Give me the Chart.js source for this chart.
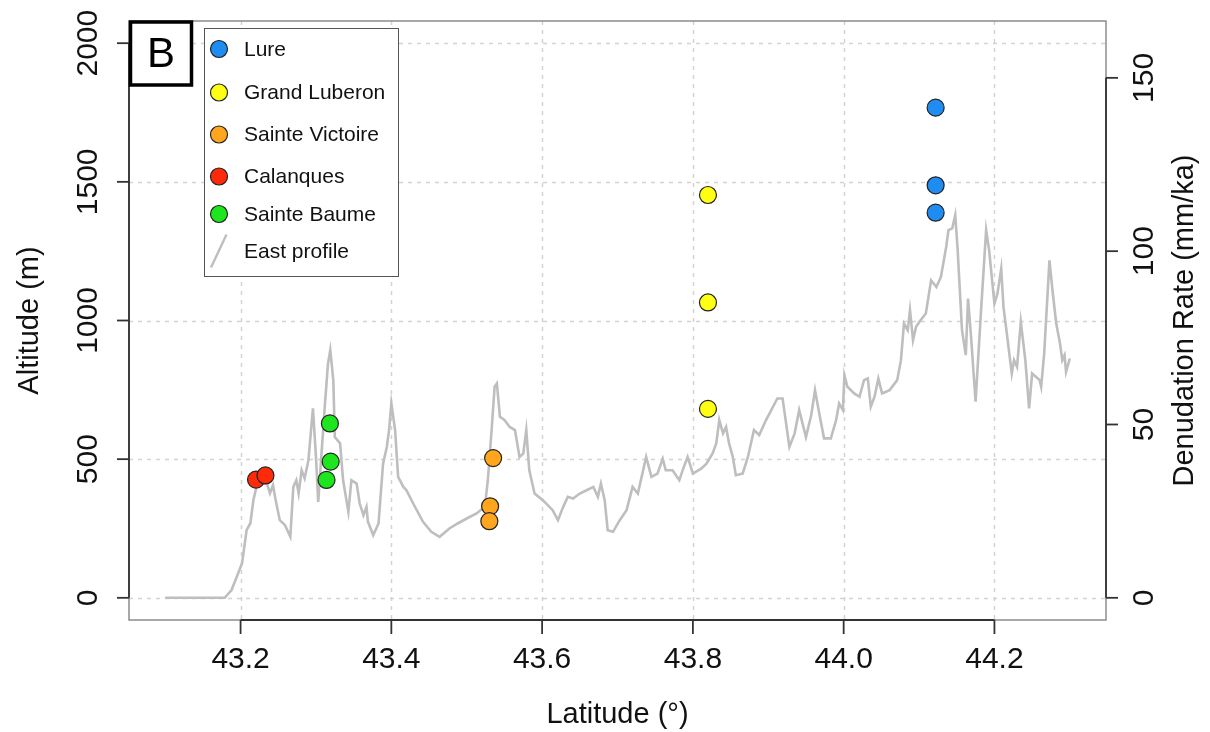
<!DOCTYPE html>
<html>
<head>
<meta charset="utf-8">
<script src="https://cdn.jsdelivr.net/npm/chart.js@4.4.1/dist/chart.umd.min.js"></script>
<style>
  body { margin: 0; background: #fff; }
  canvas { display: block; }
</style>
</head>
<body>
<canvas id="chart" width="1210" height="732"></canvas>
<script>
// East profile (latitude in degrees, altitude in m)
const profileLat = [43.100, 43.179, 43.188, 43.195, 43.202, 43.208, 43.213, 43.217, 43.221, 43.228,
  43.235, 43.239, 43.243, 43.246, 43.252, 43.259, 43.266, 43.270, 43.274, 43.277,
  43.281, 43.285, 43.290, 43.296, 43.300, 43.303, 43.308, 43.312, 43.316, 43.319,
  43.323, 43.325, 43.332, 43.336, 43.343, 43.347, 43.354, 43.358, 43.363, 43.367,
  43.369, 43.376, 43.383, 43.389, 43.394, 43.397, 43.400, 43.405, 43.409, 43.416,
  43.420, 43.429, 43.442, 43.453, 43.464, 43.477, 43.488, 43.500, 43.513, 43.524,
  43.528, 43.533, 43.537, 43.540, 43.544, 43.550, 43.557, 43.564, 43.570, 43.575,
  43.579, 43.583, 43.590, 43.601, 43.614, 43.621, 43.628, 43.634, 43.641, 43.650,
  43.659, 43.668, 43.674, 43.678, 43.683, 43.687, 43.694, 43.703, 43.712, 43.720,
  43.727, 43.738, 43.745, 43.753, 43.760, 43.764, 43.773, 43.782, 43.788, 43.793,
  43.800, 43.811, 43.818, 43.826, 43.831, 43.835, 43.840, 43.844, 43.848, 43.853,
  43.857, 43.866, 43.873, 43.881, 43.888, 43.897, 43.904, 43.912, 43.919, 43.928,
  43.935, 43.941, 43.950, 43.957, 43.962, 43.968, 43.974, 43.983, 43.990, 43.994,
  43.999, 44.001, 44.005, 44.014, 44.021, 44.027, 44.032, 44.036, 44.041, 44.046,
  44.051, 44.061, 44.071, 44.076, 44.080, 44.085, 44.088, 44.092, 44.096, 44.102,
  44.109, 44.116, 44.123, 44.129, 44.136, 44.139, 44.144, 44.148, 44.151, 44.157,
  44.162, 44.165, 44.169, 44.175, 44.182, 44.189, 44.193, 44.200, 44.204, 44.209,
  44.212, 44.217, 44.223, 44.226, 44.230, 44.235, 44.241, 44.246, 44.250, 44.260,
  44.262, 44.266, 44.273, 44.277, 44.282, 44.287, 44.290, 44.293, 44.295, 44.300];
const profileAlt = [0, 0, 28, 76, 125, 244, 269, 352, 400, 412,
  412, 377, 406, 360, 280, 262, 220, 400, 424, 377,
  460, 431, 496, 683, 508, 346, 544, 701, 845, 893,
  785, 580, 557, 424, 310, 424, 412, 340, 298, 328,
  274, 226, 268, 484, 544, 605, 701, 605, 436, 400,
  388, 340, 274, 238, 220, 250, 268, 286, 304, 328,
  424, 605, 761, 773, 653, 641, 616, 605, 508, 520,
  605, 460, 376, 352, 316, 280, 328, 364, 358, 376,
  388, 400, 364, 412, 352, 244, 238, 280, 316, 400,
  376, 508, 436, 448, 502, 460, 460, 424, 472, 508,
  448, 466, 484, 520, 557, 641, 593, 616, 557, 508,
  442, 448, 508, 605, 587, 641, 677, 719, 719, 544,
  593, 677, 580, 659, 749, 659, 575, 575, 641, 701,
  677, 803, 761, 737, 725, 785, 791, 689, 725, 791,
  737, 749, 785, 857, 989, 965, 1037, 929, 977, 1001,
  1025, 1145, 1121, 1157, 1265, 1326, 1332, 1380, 1265, 965,
  875, 1079, 941, 707, 1025, 1326, 1253, 1061, 1097, 1187,
  1049, 941, 809, 857, 833, 995, 857, 683, 809, 785,
  761, 881, 1217, 1109, 989, 917, 857, 875, 815, 863];

// sampling sites: latitude and denudation rate (mm/ka)
const siteNames = ["Lure", "Grand Luberon", "Sainte Victoire", "Calanques", "Sainte Baume"];
const siteColors = ["#1e8cf0", "#ffff14", "#ffa51e", "#ff2a0a", "#1ee61e"];
const lureLat = [44.122, 44.122, 44.122];
const lureRate = [141.4, 119.0, 111.1];
const luberonLat = [43.820, 43.820, 43.820];
const luberonRate = [116.2, 85.2, 54.5];
const victoireLat = [43.535, 43.531, 43.530];
const victoireRate = [40.3, 26.4, 22.1];
const calanquesLat = [43.2205, 43.233];
const calanquesRate = [34.1, 35.3];
const baumeLat = [43.3185, 43.3195, 43.314];
const baumeRate = [50.3, 39.3, 34.0];

const latTicks = [43.2, 43.4, 43.6, 43.8, 44.0, 44.2];
const altTicks = [0, 500, 1000, 1500, 2000];
const rateTicks = [0, 50, 100, 150];

const FONT = "'Liberation Sans', Arial, Helvetica, sans-serif";
const siteLats = [lureLat, luberonLat, victoireLat, calanquesLat, baumeLat];
const siteRates = [lureRate, luberonRate, victoireRate, calanquesRate, baumeRate];

const datasets = siteNames.map((name, i) => ({
  label: name,
  data: siteLats[i].map((lat, k) => ({ x: lat, y: siteRates[i][k] })),
  yAxisID: "y2",
  backgroundColor: siteColors[i],
  borderColor: "#222",
  borderWidth: 1.2,
  pointRadius: 8.5,
  order: 1
}));
datasets.push({
  label: "East profile",
  data: profileLat.map((lat, k) => ({ x: lat, y: profileAlt[k] })),
  yAxisID: "y",
  showLine: true,
  borderColor: "#bebebe",
  borderWidth: 2.6,
  pointRadius: 0,
  tension: 0,
  order: 10
});

function line(ctx, x1, y1, x2, y2) {
  ctx.beginPath();
  ctx.moveTo(x1, y1);
  ctx.lineTo(x2, y2);
  ctx.stroke();
}

function vtext(ctx, txt, x, y) {
  ctx.save();
  ctx.translate(x, y);
  ctx.rotate(-Math.PI / 2);
  ctx.fillText(txt, 0, 0);
  ctx.restore();
}

const decor = {
  id: "decor",
  beforeDatasetsDraw(chart) {
    const { ctx, chartArea: a, scales } = chart;
    ctx.save();
    ctx.strokeStyle = "#d3d3d3";
    ctx.lineWidth = 1.5;
    ctx.setLineDash([4, 5]);
    latTicks.forEach(v => {
      const x = Math.round(scales.x.getPixelForValue(v)) + 0.5;
      line(ctx, x, a.top, x, a.bottom);
    });
    altTicks.forEach(v => {
      const y = Math.round(scales.y.getPixelForValue(v)) + 0.5;
      line(ctx, a.left, y, a.right, y);
    });
    ctx.restore();
  },
  afterDraw(chart) {
    const { ctx, chartArea: a, scales } = chart;
    ctx.save();
    // box
    ctx.strokeStyle = "#8c8c8c";
    ctx.lineWidth = 1.5;
    ctx.strokeRect(a.left, a.top, a.right - a.left, a.bottom - a.top);

    // axes
    ctx.strokeStyle = "#333";
    ctx.lineWidth = 1.8;
    ctx.fillStyle = "#111";
    ctx.textAlign = "center";
    ctx.textBaseline = "middle";
    ctx.font = "30px " + FONT;
    const xs = latTicks.map(v => scales.x.getPixelForValue(v));
    line(ctx, xs[0], a.bottom, xs[xs.length - 1], a.bottom);
    latTicks.forEach((v, i) => {
      line(ctx, xs[i], a.bottom, xs[i], a.bottom + 14);
      ctx.fillText(v.toFixed(1), xs[i], a.bottom + 40);
    });

    const ys = altTicks.map(v => scales.y.getPixelForValue(v));
    line(ctx, a.left, ys[0], a.left, ys[ys.length - 1]);
    altTicks.forEach((v, i) => {
      line(ctx, a.left, ys[i], a.left - 12, ys[i]);
      vtext(ctx, String(v), a.left - 40, ys[i]);
    });

    const rs = rateTicks.map(v => scales.y2.getPixelForValue(v));
    line(ctx, a.right, rs[0], a.right, rs[rs.length - 1]);
    rateTicks.forEach((v, i) => {
      line(ctx, a.right, rs[i], a.right + 12, rs[i]);
      vtext(ctx, String(v), a.right + 39, rs[i]);
    });

    // axis titles
    const midY = (a.top + a.bottom) / 2;
    ctx.font = "29px " + FONT;
    ctx.fillText("Latitude (°)", (a.left + a.right) / 2, 715);
    vtext(ctx, "Altitude (m)", 30, midY);
    vtext(ctx, "Denudation Rate (mm/ka)", 1185, midY);

    // panel letter
    ctx.fillStyle = "#fff";
    ctx.fillRect(a.left, a.top, 62, 64);
    ctx.strokeStyle = "#000";
    ctx.lineWidth = 3.5;
    ctx.strokeRect(a.left + 1.5, a.top + 1, 61, 63);
    ctx.fillStyle = "#000";
    ctx.font = "42px " + FONT;
    ctx.fillText("B", a.left + 32, a.top + 34);

    // legend
    const lx = 204.5, ly = 28.5, lw = 194, lh = 248;
    ctx.fillStyle = "#fff";
    ctx.fillRect(lx, ly, lw, lh);
    ctx.strokeStyle = "#555";
    ctx.lineWidth = 1;
    ctx.strokeRect(lx, ly, lw, lh);
    const rowY = [49, 92.5, 134.5, 176.5, 214, 251];
    ctx.font = "21px " + FONT;
    ctx.textAlign = "left";
    siteNames.forEach((name, i) => {
      ctx.beginPath();
      ctx.arc(219, rowY[i], 8.5, 0, Math.PI * 2);
      ctx.fillStyle = siteColors[i];
      ctx.fill();
      ctx.strokeStyle = "#222";
      ctx.lineWidth = 1.2;
      ctx.stroke();
      ctx.fillStyle = "#111";
      ctx.fillText(name, 244, rowY[i] + 1);
    });
    ctx.strokeStyle = "#bebebe";
    ctx.lineWidth = 2.4;
    line(ctx, 226.5, 234.5, 211, 267.5);
    ctx.fillStyle = "#111";
    ctx.fillText("East profile", 244, rowY[5] + 1);
    ctx.restore();
  }
};

new Chart(document.getElementById("chart"), {
  type: "scatter",
  data: { datasets: datasets },
  options: {
    responsive: false,
    animation: false,
    devicePixelRatio: 1,
    layout: { padding: { left: 129, right: 104, top: 21, bottom: 112 } },
    plugins: { legend: { display: false }, tooltip: { enabled: false } },
    scales: {
      x: { type: "linear", min: 43.052, max: 44.348, display: false },
      y: { type: "linear", min: -80, max: 2080, display: false },
      y2: { type: "linear", min: -6.4, max: 166.4, display: false }
    }
  },
  plugins: [decor]
});
</script>
</body>
</html>
